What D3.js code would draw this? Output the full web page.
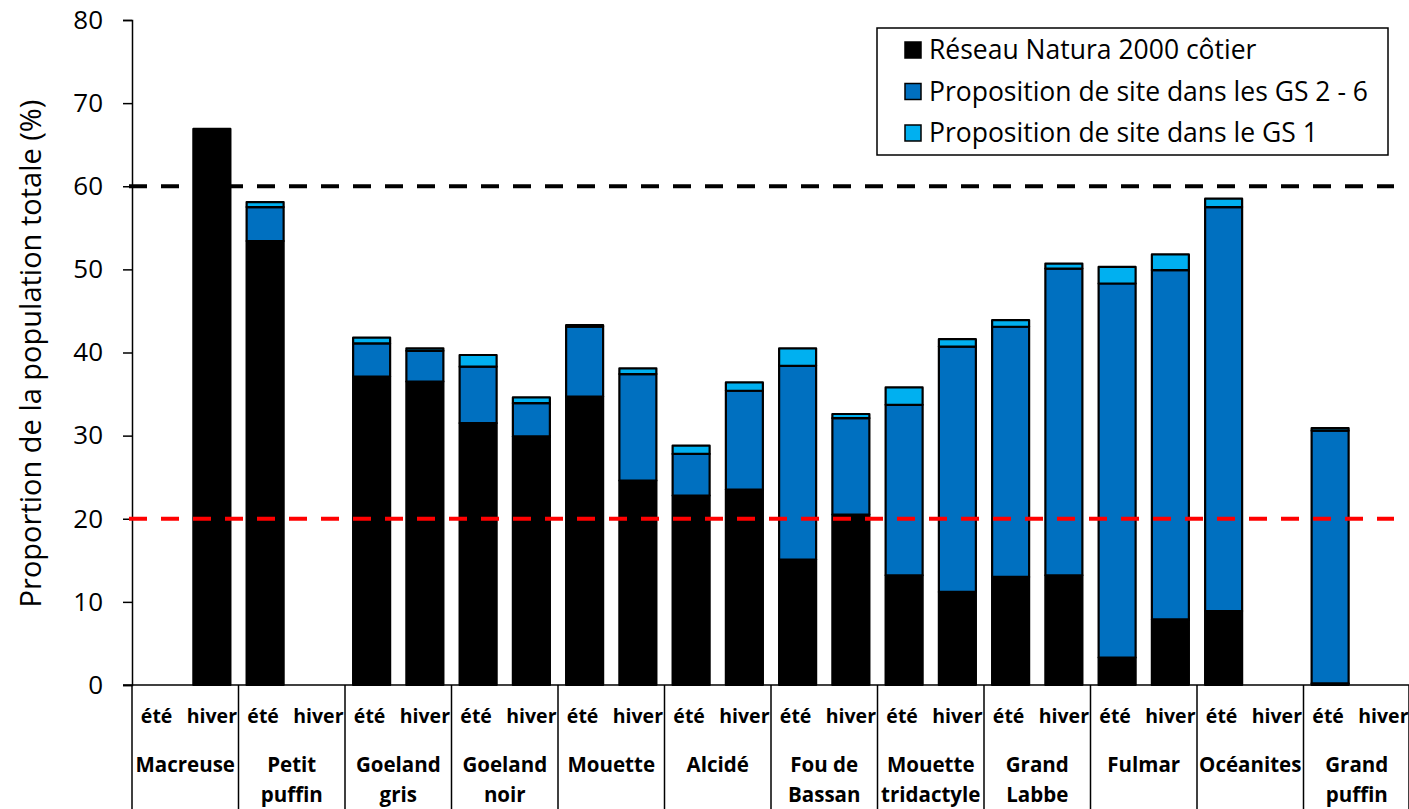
<!DOCTYPE html>
<html>
<head>
<meta charset="utf-8">
<script src="https://cdn.jsdelivr.net/npm/d3@7"></script>
<style>
    body { margin: 0; background: #fff; }
    text { font-family: "Open Sans", sans-serif; fill: #000; }
</style>
</head>
<body>
<svg id="viz" width="1409" height="809"></svg>
<script>
var groups = ["Macreuse", "Petit puffin", "Goeland gris", "Goeland noir", "Mouette", "Alcidé",
    "Fou de Bassan", "Mouette tridactyle", "Grand Labbe", "Fulmar", "Océanites", "Grand puffin"];
var groupLines = [["Macreuse"], ["Petit", "puffin"], ["Goeland", "gris"], ["Goeland", "noir"], ["Mouette"], ["Alcidé"],
    ["Fou de", "Bassan"], ["Mouette", "tridactyle"], ["Grand", "Labbe"], ["Fulmar"], ["Océanites"], ["Grand", "puffin"]];
var seasons = ["été", "hiver"];

// values per group: [été, hiver]
var natura = [[0, 66.9], [53.4, 0], [37.1, 36.5], [31.5, 29.9], [34.7, 24.6], [22.8, 23.5],
    [15.1, 20.5], [13.2, 11.2], [13.0, 13.2], [3.3, 7.9], [8.9, 0], [0.2, 0]];
var gs26 = [[0, 0], [4.1, 0], [4.0, 3.7], [6.8, 4.0], [8.4, 12.8], [5.0, 11.9],
    [23.3, 11.6], [20.5, 29.5], [30.1, 36.9], [45.0, 42.0], [48.6, 0], [30.4, 0]];
var gs1 = [[0, 0], [0.6, 0], [0.7, 0.3], [1.4, 0.7], [0.2, 0.7], [1.0, 1.0],
    [2.1, 0.5], [2.1, 0.9], [0.8, 0.6], [2.0, 1.9], [1.0, 0], [0.3, 0]];

var seriesNames = ["Réseau Natura 2000 côtier", "Proposition de site dans les GS 2 - 6", "Proposition de site dans le GS 1"];
var seriesColors = ["#000000", "#0070C0", "#00B0F0"];
var yTicks = [0, 10, 20, 30, 40, 50, 60, 70, 80];
var refLines = [{ val: 60, color: "#000000" }, { val: 20, color: "#FF0000" }];

var svg = d3.select("#viz");
var x0 = 132, x1 = 1410, yBottom = 685, yTop = 20;

var xGroup = d3.scaleBand().domain(groups).range([x0, x1]).padding(0);
var xSeason = d3.scaleBand().domain(seasons).range([0, xGroup.bandwidth()])
    .paddingInner(0.305).paddingOuter(0.1525);
var y = d3.scaleLinear().domain([0, 80]).range([yBottom, yTop]);

var rows = [];
groups.forEach(function(g, i){
    seasons.forEach(function(s, j){
        rows.push({ group: g, season: s, natura: natura[i][j], gs26: gs26[i][j], gs1: gs1[i][j] });
    });
});

var stack = d3.stack().keys(["natura", "gs26", "gs1"]);
var layers = stack(rows);

// y axis
var yAxis = d3.axisLeft(y).tickValues(yTicks).tickSize(9).tickPadding(20);
var gy = svg.append("g").attr("transform", "translate(" + x0 + ",0)").call(yAxis);
gy.select(".domain").attr("stroke", "#000").attr("stroke-width", 1.5);
gy.selectAll(".tick line").attr("stroke", "#000").attr("stroke-width", 1.5);
gy.selectAll(".tick text").style("font-size", "26px").style("font-family", "Open Sans").attr("fill", "#000");

svg.append("text")
    .attr("transform", "translate(41," + ((yTop + yBottom) / 2 + 1) + ") rotate(-90)")
    .attr("text-anchor", "middle")
    .style("font-size", "29px")
    .text("Proportion de la population totale (%)");

// bars
svg.selectAll(".layer").data(layers).enter()
    .append("g")
    .attr("class", "layer")
    .attr("fill", function(d, i){ return seriesColors[i]; })
    .selectAll("rect")
    .data(function(d){ return d.filter(function(p){ return p[1] - p[0] > 0; }); })
    .enter()
    .append("rect")
    .attr("x", function(d){ return xGroup(d.data.group) + xSeason(d.data.season); })
    .attr("width", xSeason.bandwidth())
    .attr("y", function(d){ return y(d[1]); })
    .attr("height", function(d){ return y(d[0]) - y(d[1]); })
    .attr("stroke", "#000")
    .attr("stroke-width", 2.2)
    .attr("stroke-linejoin", "round");

// reference lines
svg.selectAll(".ref").data(refLines).enter()
    .append("line")
    .attr("class", "ref")
    .attr("x1", x0 - 3)
    .attr("x2", 1394)
    .attr("y1", function(d){ return y(d.val); })
    .attr("y2", function(d){ return y(d.val); })
    .attr("stroke", function(d){ return d.color; })
    .attr("stroke-width", 4)
    .attr("stroke-dasharray", "18,14");

// x axis line and group separators
svg.append("line")
    .attr("x1", x0 - 9).attr("x2", 1409)
    .attr("y1", yBottom).attr("y2", yBottom)
    .attr("stroke", "#000").attr("stroke-width", 1.5);

var seps = groups.map(function(g){ return xGroup(g); }).concat([x1 - 1]);
svg.selectAll(".sep").data(seps).enter()
    .append("line")
    .attr("class", "sep")
    .attr("x1", function(d){ return d; })
    .attr("x2", function(d){ return d; })
    .attr("y1", yBottom)
    .attr("y2", 809)
    .attr("stroke", "#000")
    .attr("stroke-width", 1.5);

// season labels
svg.selectAll(".season").data(rows).enter()
    .append("text")
    .attr("class", "season")
    .attr("x", function(d){ return xGroup(d.group) + xSeason(d.season) + xSeason.bandwidth() / 2 + (d.season === "été" ? -2 : 0); })
    .attr("y", 723)
    .attr("text-anchor", "middle")
    .style("font-size", "19.5px")
    .style("font-weight", "bold")
    .text(function(d){ return d.season; });

// group labels
var gl = svg.selectAll(".glabel").data(groups).enter()
    .append("text")
    .attr("class", "glabel")
    .attr("x", function(d){ return xGroup(d) + xGroup.bandwidth() / 2; })
    .attr("y", 772)
    .attr("text-anchor", "middle")
    .style("font-size", "20.5px")
    .style("font-weight", "bold");
gl.selectAll("tspan")
    .data(function(d, i){ return groupLines[i]; })
    .enter()
    .append("tspan")
    .attr("x", function(){ return d3.select(this.parentNode).attr("x"); })
    .attr("dy", function(d, i){ return i === 0 ? 0 : 30; })
    .text(function(d){ return d; });

// legend
var legend = svg.append("g").attr("transform", "translate(877,28)");
legend.append("rect")
    .attr("width", 511).attr("height", 127)
    .attr("fill", "#fff").attr("stroke", "#000").attr("stroke-width", 1.5);
var li = legend.selectAll(".li").data(seriesNames).enter()
    .append("g")
    .attr("class", "li")
    .attr("transform", function(d, i){ return "translate(0," + (22 + i * 41.5) + ")"; });
li.append("rect")
    .attr("x", 28).attr("y", -8).attr("width", 16).attr("height", 16)
    .attr("fill", function(d, i){ return seriesColors[i]; })
    .attr("stroke", "#000").attr("stroke-width", 1.5);
li.append("text")
    .attr("x", 52).attr("y", 9)
    .style("font-size", "26.5px")
    .text(function(d){ return d; });
</script>
</body>
</html>
